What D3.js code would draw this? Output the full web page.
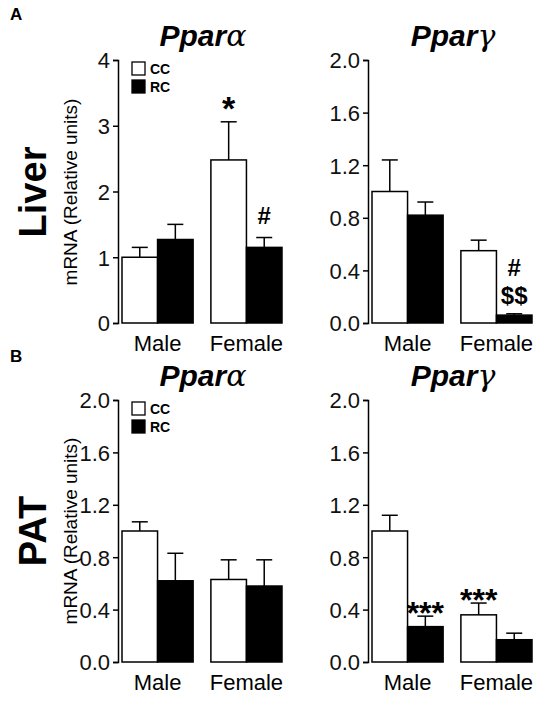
<!DOCTYPE html><html><head><script src="https://cdn.jsdelivr.net/npm/d3@7"></script>
<style>body{margin:0;background:#fff}text{font-family:Arial,"Liberation Sans",sans-serif}</style></head><body><svg id="c" width="549" height="720"></svg><script>
const groups=["Male","Female"];
const series=["CC","RC"];
const liverAlpha=[[1.0,1.27],[2.48,1.15]], liverAlphaErr=[[0.15,0.23],[0.58,0.15]];
const liverGamma=[[1.0,0.82],[0.55,0.06]], liverGammaErr=[[0.24,0.10],[0.08,0.01]];
const patAlpha=[[1.0,0.62],[0.63,0.58]], patAlphaErr=[[0.07,0.21],[0.15,0.20]];
const patGamma=[[1.0,0.27],[0.36,0.17]], patGammaErr=[[0.12,0.08],[0.09,0.05]];
const ticks4=[0,1,2,3,4], ticks2=[0,0.4,0.8,1.2,1.6,2.0];
const svg=d3.select("#c");
function panel(x0,top,bot,vals,errs,max,ticks,fmt,title,annots,legend){
 const g=svg.append("g");
 const y=d3.scaleLinear().domain([0,max]).range([bot,top]);
 const x=d3.scaleBand().domain(groups).range([x0+4,x0+164]).paddingInner(0.2).paddingOuter(0);
 const xs=d3.scaleBand().domain(series).range([0,x.bandwidth()]);
 const ax=g.append("g").attr("transform",`translate(${x0},0)`).call(d3.axisLeft(y).tickValues(ticks).tickFormat(fmt).tickSize(5));
 ax.select(".domain").attr("stroke-width",1.5);ax.selectAll("line").attr("stroke-width",1.5);
 ax.selectAll("text").attr("font-size",22).attr("fill","#111").attr("dy","0.36em");
 groups.forEach((gr,i)=>series.forEach((s,j)=>{
  const bx=x(gr)+xs(s),w=xs.bandwidth(),v=vals[i][j],e=errs[i][j],cx=bx+w/2;
  g.append("line").attr("x1",cx).attr("x2",cx).attr("y1",y(v)).attr("y2",y(v+e)).attr("stroke","#000").attr("stroke-width",1.5);
  g.append("line").attr("x1",cx-8).attr("x2",cx+8).attr("y1",y(v+e)).attr("y2",y(v+e)).attr("stroke","#000").attr("stroke-width",1.5);
  g.append("rect").attr("x",bx).attr("y",y(v)).attr("width",w).attr("height",bot-y(v)).attr("fill",j?"#000":"#fff").attr("stroke","#000").attr("stroke-width",1.5);
 }));
 groups.forEach(gr=>g.append("text").attr("x",x(gr)+x.bandwidth()/2).attr("y",bot+28).attr("text-anchor","middle").attr("font-size",22).text(gr));
 const t=g.append("text").attr("x",x0+85).attr("y",top-14).attr("text-anchor","middle").attr("font-size",30).attr("font-weight","bold").attr("font-style","italic");
 t.append("tspan").text("Ppar");t.append("tspan").attr("font-weight","normal").attr("font-family","DejaVu Serif").text(title);
 annots.forEach(a=>{const bx=x(groups[a.i])+xs(series[a.j])+xs.bandwidth()/2;
  g.append("text").attr("x",bx).attr("y",y(vals[a.i][a.j]+errs[a.i][a.j])-(a.off||8)).attr("text-anchor","middle").attr("font-size",a.fs||24).attr("font-weight","bold").text(a.t);});
 if(legend){series.forEach((s,j)=>{g.append("rect").attr("x",x0+14).attr("y",top+2+j*18).attr("width",13).attr("height",13).attr("fill",j?"#000":"#fff").attr("stroke","#000").attr("stroke-width",1.3);
  g.append("text").attr("x",x0+32).attr("y",top+14+j*18).attr("font-size",14).attr("font-weight","bold").text(s);});}
}
const f1=d3.format("d"),f2=d3.format(".1f");
panel(118,60,323,liverAlpha,liverAlphaErr,4,ticks4,f1,"α",[{i:1,j:0,t:"*",fs:34,off:2},{i:1,j:1,t:"#",off:14}],true);
panel(368,60,323,liverGamma,liverGammaErr,2,ticks2,f2,"γ",[{i:1,j:1,t:"$$",off:10},{i:1,j:1,t:"#",off:38}],false);
panel(118,400,662,patAlpha,patAlphaErr,2,ticks2,f2,"α",[],true);
panel(368,400,662,patGamma,patGammaErr,2,ticks2,f2,"γ",[{i:0,j:1,t:"***",fs:32,off:-8},{i:1,j:0,t:"***",fs:32,off:-8}],false);
[["A",20],["B",362]].forEach(([l,yy])=>svg.append("text").attr("x",10).attr("y",yy).attr("font-size",17).attr("font-weight","bold").text(l));
[["Liver",192],["PAT",531]].forEach(([l,cy])=>{
 svg.append("text").attr("transform",`translate(46,${cy}) rotate(-90)`).attr("text-anchor","middle").attr("font-size",38).attr("font-weight","bold").text(l);
 svg.append("text").attr("transform",`translate(77,${cy}) rotate(-90)`).attr("text-anchor","middle").attr("font-size",19).text("mRNA (Relative units)");});
</script></body></html>
